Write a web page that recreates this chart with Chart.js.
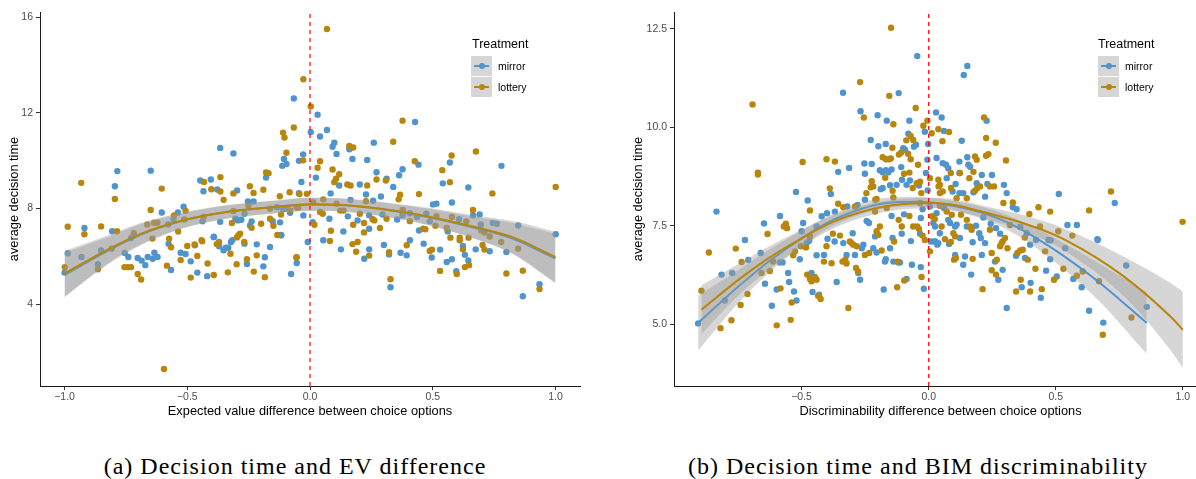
<!DOCTYPE html>
<html><head><meta charset="utf-8">
<script src="https://cdn.jsdelivr.net/npm/chart.js@4.4.1/dist/chart.umd.min.js"></script>
<style>
html,body{margin:0;padding:0;background:#fff;}
body{width:1196px;height:479px;overflow:hidden;position:relative;font-family:'Liberation Sans',Arial,Helvetica,sans-serif;}
canvas{position:absolute;top:0;}
#cA{left:0;} #cB{left:624px;}
.lt{position:absolute;font-size:12.5px;line-height:16px;color:#000;white-space:nowrap;}
.key{position:absolute;width:21px;height:20px;background:#d6d6d6;}
.key .ln{position:absolute;left:3px;width:15px;top:9px;height:2px;}
.key .dt{position:absolute;left:7.5px;top:7px;width:6px;height:6px;border-radius:50%;}
.lab{position:absolute;font-size:10.5px;line-height:14px;color:#000;white-space:nowrap;}
.cap{position:absolute;top:452px;font-family:'Liberation Serif','Times New Roman',serif;font-size:24px;line-height:28px;white-space:nowrap;transform:translateX(-50%);letter-spacing:1px;color:#000;}
</style></head>
<body>
<canvas id="cA" width="590" height="430"></canvas>
<canvas id="cB" width="590" height="430"></canvas>

<div class="lt" style="left:472px;top:36px;">Treatment</div>
<div class="key" style="left:471px;top:56px;"><div class="ln" style="background:#4F94CD"></div><div class="dt" style="background:#4F94CD"></div></div>
<div class="key" style="left:471px;top:77px;"><div class="ln" style="background:#B8860B"></div><div class="dt" style="background:#B8860B"></div></div>
<div class="lab" style="left:498px;top:59px;">mirror</div>
<div class="lab" style="left:498px;top:80px;">lottery</div>

<div class="lt" style="left:1098px;top:36px;">Treatment</div>
<div class="key" style="left:1098px;top:56px;"><div class="ln" style="background:#4F94CD"></div><div class="dt" style="background:#4F94CD"></div></div>
<div class="key" style="left:1098px;top:77px;"><div class="ln" style="background:#B8860B"></div><div class="dt" style="background:#B8860B"></div></div>
<div class="lab" style="left:1125px;top:59px;">mirror</div>
<div class="lab" style="left:1125px;top:80px;">lottery</div>

<div class="cap" style="left:295px;">(a) Decision time and EV difference</div>
<div class="cap" style="left:918px;">(b) Decision time and BIM discriminability</div>

<script>
// ---------- Chart (a): EV difference ----------
const evXTicks = [-1.0, -0.5, 0.0, 0.5, 1.0];
const evXTickLabels = ['\u22121.0', '\u22120.5', '0.0', '0.5', '1.0'];
const evYTicks = [4, 8, 12, 16];
const evYTickLabels = ['4', '8', '12', '16'];
const evXRange = [-1.1, 1.1];
const evYRange = [0.58, 16.21];

const evMirrorPoints = [
[-0.919,7.18],[-0.806,7.05],[-0.795,8.93],[-0.785,9.56],[-0.649,9.58],[-0.604,7.83],[-0.578,7.33],[-0.538,7.83],[-0.515,8.07],[-0.556,7.54],
[-0.447,9.17],[-0.434,8.72],[-0.404,9.21],[-0.378,8.79],[-0.366,10.53],[-0.312,10.30],[-0.297,8.75],[-0.253,8.29],[-0.230,8.29],[-0.179,9.29],
[-0.066,12.60],[-0.106,10.07],[-0.096,9.86],[-0.113,9.78],[-0.045,9.99],[-0.045,8.64],[-0.135,8.05],[-0.081,7.82],[-0.122,7.42],[-0.118,6.89],
[-0.152,7.47],[-0.238,7.46],[-0.244,7.29],[-0.267,7.78],[-0.304,7.57],[-0.366,7.44],[-0.392,6.80],
[-1.0,5.32],[-0.987,6.13],[-0.931,5.97],[-0.864,5.67],[-0.851,6.25],[-0.755,6.14],[-0.740,5.97],[-0.702,5.93],[-0.686,5.82],[-0.671,5.63],
[-0.661,5.97],[-0.641,5.90],[-0.621,5.97],[-0.634,6.15],[-0.576,6.53],[-0.566,5.43],[-0.527,6.15],[-0.507,6.10],[-0.486,5.79],[-0.459,5.32],
[-0.419,5.17],[-0.392,6.82],[-0.370,6.42],[-0.352,6.25],[-0.343,6.36],[-0.333,6.36],[-0.322,6.60],[-0.317,6.67],[-0.257,5.68],[-0.217,6.50],
[-0.190,5.58],[-0.184,5.96],[-0.163,6.39],[-0.117,6.88],[-0.729,6.76],[-0.718,6.88],[-0.438,7.46],[-0.294,7.50],[-0.280,7.53],[-0.095,7.99],
[-0.027,7.71],[-0.469,6.46],[-0.267,6.53],
[0.031,11.92],[0.003,11.19],[0.041,11.01],[0.069,11.28],[-0.028,10.26],[-0.035,9.11],[0.024,9.29],[0.099,10.75],[0.092,10.58],[0.108,10.28],
[0.160,10.47],[0.173,10.07],[0.233,10.03],[0.260,10.75],[0.428,11.61],[0.119,8.96],[0.203,9.00],[0.271,9.51],[0.312,9.24],[0.339,8.90],
[0.363,9.39],[0.377,9.64],[0.442,9.83],[0.570,9.92],[0.541,9.05],[0.780,9.78],[0.645,8.88],[0.084,8.63],[0.228,8.58],[0.165,8.36],
[0.257,8.32],[0.289,8.50],[-0.111,7.97],[0.011,7.43],[0.079,7.57],[0.136,7.04],[0.154,7.67],[0.194,7.50],[0.241,7.72],[0.241,7.15],
[0.295,7.75],[0.355,7.54],[0.377,7.71],[0.407,7.80],[0.436,7.64],[0.444,7.08],[0.474,7.78],[0.501,8.17],[0.515,8.20],[0.488,7.46],
[0.578,8.25],[0.607,7.55],[0.561,7.04],[0.664,7.71],[0.691,7.75],[0.696,7.33],[0.745,7.39],[0.761,7.36],[0.848,7.29],[1.001,6.92],
[-0.009,6.60],[-0.077,5.26],[-0.054,5.72],[0.054,6.67],[0.126,6.29],[0.221,5.90],[0.241,6.29],[0.301,6.47],[0.322,6.08],[0.328,4.71],
[0.369,6.15],[0.394,6.04],[0.407,6.67],[0.463,6.53],[0.496,5.95],[0.530,6.28],[0.557,5.76],[0.578,5.88],[0.596,5.38],[0.623,6.43],
[0.631,6.06],[0.645,5.83],[0.675,6.29],[0.732,6.21],[0.800,6.18],[0.867,4.33],[0.935,4.83]
];

const evLotteryPoints = [
[-0.987,7.24],[-0.932,9.07],[-0.919,6.92],[-0.851,7.25],[-0.786,7.05],[-0.795,8.40],[-0.604,8.83],[-0.649,7.94],[-0.663,7.33],[-0.635,7.40],
[-0.622,7.40],[-0.554,7.71],[-0.507,7.90],[-0.512,7.54],[-0.432,9.11],[-0.402,8.80],[-0.365,8.71],[-0.365,9.31],[-0.352,8.36],[-0.312,8.63],
[-0.245,8.93],[-0.230,8.65],[-0.190,8.78],[-0.179,9.50],[-0.169,9.47],[-0.110,11.17],[-0.104,10.96],[-0.096,10.33],[-0.066,11.38],[-0.123,8.51],
[-0.083,8.68],[-0.118,7.75],[-0.133,6.89],[-0.163,7.57],[-0.149,7.28],[-0.199,7.36],[-0.318,7.39],[-0.285,6.95],[-0.291,6.88],[-0.298,6.79],
[-0.442,6.67],
[-0.999,5.55],[-0.864,5.46],[-0.808,6.32],[-0.756,5.55],[-0.743,5.55],[-0.729,5.55],[-0.702,5.26],[-0.688,5.03],[-0.642,6.74],[-0.583,5.61],
[-0.574,6.74],[-0.566,6.38],[-0.537,7.04],[-0.527,5.85],[-0.500,6.43],[-0.486,5.11],[-0.470,6.50],[-0.459,6.01],[-0.439,6.63],[-0.417,5.70],
[-0.392,5.22],[-0.380,6.51],[-0.371,6.60],[-0.324,6.11],[-0.335,5.33],[-0.299,5.67],[-0.268,6.60],[-0.257,5.88],[-0.217,6.04],[-0.229,5.36],
[-0.184,5.13],[-0.056,5.95],[-0.718,6.97],[-0.434,7.64],[-0.312,7.89],[-0.251,8.12],[-0.238,7.19],[-0.163,7.99],[-0.054,8.05],[-0.013,8.61],
[-0.595,1.29],
[0.069,15.50],[-0.027,13.40],[0.003,12.26],[-0.028,10.01],[0.031,9.70],[0.041,9.97],[0.160,10.61],[0.176,10.55],[0.339,10.79],[0.377,11.67],
[0.092,9.63],[0.099,9.10],[0.106,9.24],[0.119,9.43],[0.152,9.00],[0.165,8.96],[0.233,8.96],[0.271,9.21],[0.309,9.17],[0.427,9.97],
[0.539,9.60],[0.577,10.21],[0.570,9.10],[0.676,10.38],[0.743,8.63],[1.001,8.90],[-0.043,8.60],[0.367,8.57],[0.361,8.38],[0.444,8.60],
[0.228,8.30],[-0.081,7.92],[-0.048,8.03],[0.013,8.26],[0.054,8.38],[0.041,7.85],[0.052,7.78],[0.018,7.32],[0.108,8.20],[0.123,7.91],
[0.137,7.91],[0.085,7.07],[0.176,7.32],[0.203,7.78],[0.255,7.55],[0.262,7.50],[0.220,7.39],[0.220,7.00],[0.285,7.18],[0.312,7.57],
[0.378,7.94],[0.407,7.47],[0.461,7.15],[0.470,7.13],[0.515,7.68],[0.511,7.28],[0.578,7.64],[0.557,7.18],[0.664,7.94],[0.637,7.46],
[0.698,7.08],[0.711,6.99],[0.732,6.83],[0.572,6.78],[0.610,6.78],[0.646,6.78],
[-0.054,5.96],[0.081,6.64],[0.173,6.51],[0.194,6.60],[0.188,6.19],[0.241,6.03],[0.322,6.17],[0.328,5.04],[0.394,6.46],[0.488,6.22],
[0.497,6.28],[0.530,5.39],[0.598,5.26],[0.610,6.67],[0.623,6.29],[0.648,5.63],[0.631,5.55],[0.703,6.47],[0.711,6.28],[0.800,5.28],
[0.848,6.32],[0.867,5.40],[0.935,4.63],[0.779,6.60]
];

const evFitX        = [-1.0, -0.83, -0.69, -0.52, -0.34, -0.15, 0.0, 0.15, 0.42, 0.69, 0.83, 1.0];
const evLotteryFit  = [5.28, 6.25, 6.94, 7.50, 7.85, 8.05, 8.17, 8.13, 7.78, 7.18, 6.78, 5.97];
const evLotteryUp   = [6.23, 6.85, 7.39, 7.83, 8.13, 8.32, 8.45, 8.41, 8.11, 7.68, 7.46, 7.02];
const evLotteryLo   = [4.33, 5.65, 6.49, 7.17, 7.57, 7.78, 7.89, 7.85, 7.45, 6.68, 6.10, 4.92];
const evMirrorFit   = [5.22, 6.20, 6.90, 7.48, 7.85, 8.06, 8.18, 8.13, 7.76, 7.14, 6.72, 5.90];
const evMirrorUp    = [6.15, 6.78, 7.34, 7.80, 8.12, 8.32, 8.45, 8.40, 8.08, 7.62, 7.38, 6.93];
const evMirrorLo    = [4.28, 5.62, 6.46, 7.16, 7.58, 7.80, 7.91, 7.86, 7.44, 6.66, 6.06, 4.86];

// ---------- Chart (b): BIM discriminability ----------
const bimXTicks = [-0.5, 0.0, 0.5, 1.0];
const bimXTickLabels = ['\u22120.5', '0.0', '0.5', '1.0'];
const bimYTicks = [5.0, 7.5, 10.0, 12.5];
const bimYTickLabels = ['5.0', '7.5', '10.0', '12.5'];
const bimXRange = [-1.002, 1.095];
const bimYRange = [3.43, 12.93];

const bimMirrorPoints = [
[-0.522,8.36],[-0.385,8.31],[-0.356,8.87],[-0.313,8.97],[-0.337,10.88],[-0.268,10.41],[-0.201,10.31],[-0.165,10.17],[-0.118,10.87],[-0.228,9.68],
[-0.198,9.52],[-0.169,9.58],[-0.253,9.08],[-0.224,9.07],[-0.251,8.82],[-0.192,8.91],[-0.181,8.86],[-0.146,8.93],[-0.168,8.91],[-0.159,8.86],
[-0.189,8.43],[-0.181,8.46],[-0.152,8.53],
[-0.835,7.86],[-0.815,6.26],[-0.773,6.30],[-0.723,7.14],[-0.710,6.63],[-0.661,6.81],[-0.644,6.03],[-0.585,6.57],[-0.575,6.57],[-0.598,5.88],
[-0.617,5.47],[-0.585,7.75],[-0.648,7.56],[-0.553,6.30],[-0.549,6.07],[-0.530,5.83],[-0.520,5.60],[-0.507,6.65],[-0.476,8.14],[-0.494,7.57],
[-0.500,7.36],[-0.480,7.06],[-0.470,7.12],[-0.441,7.48],[-0.461,6.30],[-0.457,5.82],[-0.431,5.75],[-0.441,6.75],[-0.412,6.76],[-0.398,7.17],
[-0.421,7.74],[-0.400,7.82],[-0.370,7.10],[-0.362,6.07],[-0.336,7.06],[-0.299,7.31],[-0.323,6.76],[-0.290,6.76],[-0.277,6.30],[-0.270,6.13],
[-0.257,7.02],[-0.263,6.93],[-0.244,7.62],[-0.235,7.57],[-0.218,6.93],[-0.211,7.23],[-0.205,6.82],[-0.169,6.65],[-0.172,6.59],[-0.142,7.19],
[-0.146,7.75],[-0.152,6.93],[-0.177,5.88],[-0.113,6.57],[-0.087,6.15],[-0.106,7.30],[-0.097,7.79],[-0.070,7.11],[-0.066,6.51],[-0.034,7.30],
[-0.031,7.70],[-0.031,6.45],[-0.019,5.90],[0.008,7.10],[0.026,7.10],[0.034,7.02],[0.025,7.48],[0.005,7.99],[-0.024,7.92],[-0.251,8.16],
[-0.126,8.54],[-0.320,7.99],[-0.369,7.86],[-0.280,8.03],[-0.139,6.59],[-0.120,6.57],
[0.029,10.38],[-0.076,10.17],[-0.015,9.89],[-0.080,9.84],[-0.058,9.51],[-0.050,9.56],[-0.002,9.58],[-0.100,9.47],[-0.093,9.43],[-0.108,8.99],
[-0.005,9.18],[0.031,9.22],[-0.105,8.67],[-0.074,8.65],[-0.087,8.54],[-0.038,8.52],[-0.004,8.40],[-0.011,8.84],
[-0.045,11.81],[0.152,11.56],[0.138,11.33],[0.051,10.25],[0.060,9.91],[0.130,9.66],[0.228,10.17],[0.055,9.09],[0.068,9.05],[0.077,8.96],
[0.121,9.13],[0.152,9.24],[0.156,9.05],[0.163,9.00],[0.121,8.84],[0.209,8.79],[0.249,8.79],[0.189,8.58],[0.231,8.56],[0.296,8.54],
[0.307,8.33],[0.222,8.24],[0.121,8.33],[0.094,8.37],[0.176,8.35],[0.106,8.56],[0.071,8.71],[0.512,8.31],[0.732,8.08],[0.546,7.52],
[0.583,7.52],[0.664,7.16],[-0.907,5.02],[-0.802,5.60],
[0.031,7.82],[0.060,7.95],[0.018,7.57],[0.044,7.31],[0.077,7.65],[0.084,7.57],[0.104,7.48],[0.110,7.53],[0.021,7.10],[0.038,7.06],
[0.080,7.04],[0.104,6.76],[0.123,7.19],[0.150,7.48],[0.186,7.50],[0.173,7.08],[0.199,7.31],[0.205,7.19],[0.222,7.06],[0.244,7.55],
[0.265,7.44],[0.215,7.71],[0.281,7.30],[0.291,6.38],[0.261,6.59],[0.274,6.13],[0.209,6.76],[0.143,6.72],[0.136,6.51],[0.167,6.26],
[0.307,5.41],[0.344,6.74],[0.379,6.68],[0.399,7.02],[0.462,6.36],[0.366,5.94],[0.401,6.05],[0.441,5.67],[0.478,6.65],[0.504,6.21],
[0.331,7.97],[0.346,7.92],[0.360,7.47],[0.386,7.31],[0.422,7.14],[0.471,7.14],[0.480,7.13],[0.537,6.93],[0.569,6.15],[0.602,5.94],
[0.665,7.14],[0.631,5.34],[0.687,5.04],[0.777,6.49],[0.858,5.44],[0.136,8.33]
];

const bimLotteryPoints = [
[-0.693,10.58],[-0.672,8.85],[-0.672,8.80],[-0.496,9.12],[-0.402,9.19],[-0.369,9.13],[-0.389,8.45],[-0.270,11.15],[-0.255,10.25],[-0.139,10.08],
[-0.155,10.80],[-0.148,12.53],[-0.143,9.48],[-0.218,8.50],[-0.228,8.48],[-0.181,9.24],[-0.168,9.19],[-0.157,9.19],[-0.149,9.21],[-0.171,8.72],
[-0.224,8.63],[-0.210,8.16],[-0.205,8.18],[-0.142,8.39],[-0.117,9.31],[-0.245,8.33],[-0.139,8.22],
[-0.865,6.82],[-0.894,5.85],[-0.819,4.90],[-0.776,5.10],[-0.759,6.92],[-0.736,6.58],[-0.713,5.77],[-0.740,5.49],[-0.658,6.30],[-0.625,6.35],
[-0.612,6.59],[-0.583,5.91],[-0.598,4.97],[-0.543,5.11],[-0.634,7.29],[-0.570,7.48],[-0.562,7.55],[-0.557,7.44],[-0.539,5.55],[-0.533,6.75],
[-0.526,6.85],[-0.467,7.89],[-0.503,6.98],[-0.483,6.95],[-0.467,7.23],[-0.478,6.26],[-0.467,6.15],[-0.461,6.09],[-0.448,6.20],[-0.441,6.13],
[-0.435,5.72],[-0.425,5.64],[-0.412,6.59],[-0.402,6.98],[-0.377,7.30],[-0.382,6.55],[-0.349,7.25],[-0.339,6.59],[-0.323,6.54],[-0.328,6.64],
[-0.316,5.41],[-0.310,7.10],[-0.303,7.06],[-0.297,7.02],[-0.283,6.98],[-0.286,6.43],[-0.278,6.34],[-0.290,7.99],[-0.251,6.76],[-0.234,6.81],
[-0.211,7.86],[-0.205,7.36],[-0.192,7.48],[-0.198,7.27],[-0.185,6.87],[-0.165,7.95],[-0.136,7.10],[-0.122,6.59],[-0.124,5.94],[-0.096,6.11],
[-0.106,7.48],[-0.118,7.65],[-0.076,7.75],[-0.061,7.48],[-0.045,7.48],[-0.038,7.42],[-0.028,6.20],[-0.024,7.25],[-0.015,7.14],[0.005,6.85],
[0.013,7.74],[0.024,7.67],[-0.034,8.08],[-0.356,8.06],[-0.336,7.97],
[-0.051,10.49],[-0.005,10.17],[-0.021,10.04],[0.038,9.95],[0.012,9.85],[-0.071,9.78],[-0.088,9.67],[-0.061,9.68],[-0.108,9.36],[-0.081,9.33],
[-0.071,9.19],[-0.042,9.05],[-0.076,8.85],[-0.097,8.82],[-0.047,8.58],[-0.034,8.62],[-0.029,8.33],[-0.063,8.46],[0.039,8.50],[0.005,8.71],
[0.054,9.65],[0.080,9.88],[0.218,10.25],[0.226,9.73],[0.264,9.61],[0.087,8.84],[0.123,8.84],[0.182,9.26],[0.189,9.18],[0.226,9.28],
[0.235,9.32],[0.176,8.87],[0.304,9.16],[0.160,8.71],[0.202,8.50],[0.191,8.45],[0.182,8.39],[0.241,8.50],[0.257,8.50],[0.088,8.46],
[0.038,8.67],[0.044,8.54],[0.044,8.33],[0.055,8.37],[0.331,8.09],[0.294,8.08],[0.432,7.97],[0.478,7.86],[0.631,7.89],[0.717,8.37],
[0.999,7.60],
[0.044,8.01],[0.071,7.86],[0.051,7.48],[0.091,7.78],[0.097,7.31],[0.104,7.23],[0.064,7.16],[0.087,7.09],[0.100,6.64],[0.107,6.68],
[0.127,7.78],[0.150,7.65],[0.163,7.48],[0.169,7.40],[0.241,7.40],[0.281,6.98],[0.287,7.06],[0.291,7.10],[0.300,7.19],[0.310,6.93],
[0.268,6.64],[0.248,6.81],[0.248,6.37],[0.265,6.26],[0.173,6.66],[0.212,5.89],[0.349,6.81],[0.360,6.87],[0.370,6.89],[0.390,6.64],
[0.378,7.20],[0.420,6.41],[0.362,6.13],[0.344,5.83],[0.399,5.83],[0.445,5.89],[0.458,6.85],[0.493,6.13],[0.530,6.41],[0.396,7.80],
[0.320,7.52],[0.438,7.48],[0.510,7.36],[0.565,7.25],[0.583,6.23],[0.606,6.34],[0.670,6.09],[0.685,4.73],[0.798,5.17],[0.110,8.20],
[0.150,8.20]
];

const bimMirrorFitX  = [-0.907, -0.75, -0.638, -0.5, -0.376, -0.165, -0.05, 0.1, 0.268, 0.425, 0.648, 0.858];
const bimMirrorFit   = [5.03, 5.95, 6.55, 7.18, 7.65, 8.08, 8.11, 8.00, 7.70, 7.18, 6.18, 5.03];
const bimMirrorUp    = [5.73, 6.37, 6.85, 7.38, 7.80, 8.21, 8.23, 8.13, 7.87, 7.43, 6.63, 5.81];
const bimMirrorLo    = [4.33, 5.53, 6.25, 6.98, 7.50, 7.95, 7.99, 7.87, 7.53, 6.93, 5.73, 4.25];
const bimLotteryFitX = [-0.894, -0.75, -0.638, -0.5, -0.376, -0.165, 0.018, 0.268, 0.425, 0.537, 0.766, 0.95, 1.0];
const bimLotteryFit  = [5.37, 6.12, 6.64, 7.18, 7.60, 8.00, 8.08, 7.76, 7.45, 7.14, 6.22, 5.20, 4.86];
const bimLotteryUp   = [5.99, 6.52, 6.94, 7.40, 7.77, 8.14, 8.21, 7.93, 7.67, 7.42, 6.72, 6.05, 5.83];
const bimLotteryLo   = [4.75, 5.72, 6.34, 6.96, 7.43, 7.86, 7.95, 7.59, 7.23, 6.86, 5.72, 4.35, 3.89];

// ---------- drawing ----------
Chart.defaults.font.family = "'Liberation Sans', Arial, Helvetica, sans-serif";
const BLUE = '#4F94CD', GOLD = '#B8860B', BAND = 'rgba(153,153,153,0.4)';
const CLEAR = 'rgba(0,0,0,0)';

function pairsToXY(p) { return p.map(d => ({x: d[0], y: d[1]})); }
function zipXY(xs, ys) { return xs.map((x, i) => ({x: x, y: ys[i]})); }

function curve(data, color, width, order, fill) {
  return {data: data, showLine: true, borderColor: color, borderWidth: width, pointRadius: 0,
          cubicInterpolationMode: 'monotone', backgroundColor: fill ? BAND : CLEAR,
          fill: fill ? '+1' : false, order: order};
}

function build(id, o) {
  const datasets = [
    {data: [{x: 0, y: o.yRange[0]}, {x: 0, y: o.yRange[1]}], showLine: true, borderColor: '#FF0000',
     borderWidth: 1.2, borderDash: [4, 4], pointRadius: 0, fill: false, order: 0},
    curve(zipXY(o.lotX, o.lotFit), GOLD, 2, 1, false),
    curve(zipXY(o.lotX, o.lotUp), CLEAR, 0, 2, true),
    curve(zipXY(o.lotX, o.lotLo), CLEAR, 0, 2, false),
    curve(zipXY(o.mirX, o.mirFit), BLUE, 2, 3, false),
    curve(zipXY(o.mirX, o.mirUp), CLEAR, 0, 4, true),
    curve(zipXY(o.mirX, o.mirLo), CLEAR, 0, 4, false),
    {data: pairsToXY(o.lotPts), showLine: false, pointRadius: 3.2, pointBackgroundColor: GOLD,
     pointBorderWidth: 0, pointBorderColor: CLEAR, order: 5},
    {data: pairsToXY(o.mirPts), showLine: false, pointRadius: 3.2, pointBackgroundColor: BLUE,
     pointBorderWidth: 0, pointBorderColor: CLEAR, order: 6}
  ];
  return new Chart(document.getElementById(id), {
    type: 'line',
    data: {datasets: datasets},
    options: {
      responsive: false, animation: false, devicePixelRatio: 1, events: [],
      layout: {padding: {top: 12, right: o.padRight, bottom: 0, left: 0}},
      plugins: {legend: {display: false}, tooltip: {enabled: false}},
      scales: {
        x: {type: 'linear', min: o.xRange[0], max: o.xRange[1],
            afterFit: s => { s.height = 44; },
            afterBuildTicks: s => { s.ticks = o.xTicks.map(v => ({value: v})); },
            ticks: {callback: (v, i) => o.xLabels[i], color: '#4D4D4D', font: {size: 10.5},
                    padding: 1, maxRotation: 0, autoSkip: false},
            grid: {drawOnChartArea: false, drawTicks: true, tickLength: 4, color: '#333333'},
            border: {display: true, color: '#1a1a1a', width: 1},
            title: {display: true, text: o.xTitle, color: '#000', font: {size: 12.8},
                    padding: {top: 0, bottom: 11.3}}},
        y: {type: 'linear', min: o.yRange[0], max: o.yRange[1],
            afterFit: s => { s.width = o.yWidth; },
            afterBuildTicks: s => { s.ticks = o.yTicks.map(v => ({value: v})); },
            ticks: {callback: (v, i) => o.yLabels[i], color: '#4D4D4D', font: {size: 10.5},
                    padding: 3, autoSkip: false},
            grid: {drawOnChartArea: false, drawTicks: true, tickLength: 4, color: '#333333'},
            border: {display: true, color: '#1a1a1a', width: 1},
            title: {display: true, text: 'average decision time', color: '#000', font: {size: 12.8},
                    padding: {top: 6.5, bottom: 0}}}
      }
    }
  });
}

build('cA', {
  xRange: evXRange, yRange: evYRange, xTicks: evXTicks, xLabels: evXTickLabels,
  yTicks: evYTicks, yLabels: evYTickLabels, yWidth: 40, padRight: 10,
  xTitle: 'Expected value difference between choice options',
  mirPts: evMirrorPoints, lotPts: evLotteryPoints,
  mirX: evFitX, mirFit: evMirrorFit, mirUp: evMirrorUp, mirLo: evMirrorLo,
  lotX: evFitX, lotFit: evLotteryFit, lotUp: evLotteryUp, lotLo: evLotteryLo
});

build('cB', {
  xRange: bimXRange, yRange: bimYRange, xTicks: bimXTicks, xLabels: bimXTickLabels,
  yTicks: bimYTicks, yLabels: bimYTickLabels, yWidth: 50, padRight: 7,
  xTitle: 'Discriminability difference between choice options',
  mirPts: bimMirrorPoints, lotPts: bimLotteryPoints,
  mirX: bimMirrorFitX, mirFit: bimMirrorFit, mirUp: bimMirrorUp, mirLo: bimMirrorLo,
  lotX: bimLotteryFitX, lotFit: bimLotteryFit, lotUp: bimLotteryUp, lotLo: bimLotteryLo
});
</script>
</body></html>
